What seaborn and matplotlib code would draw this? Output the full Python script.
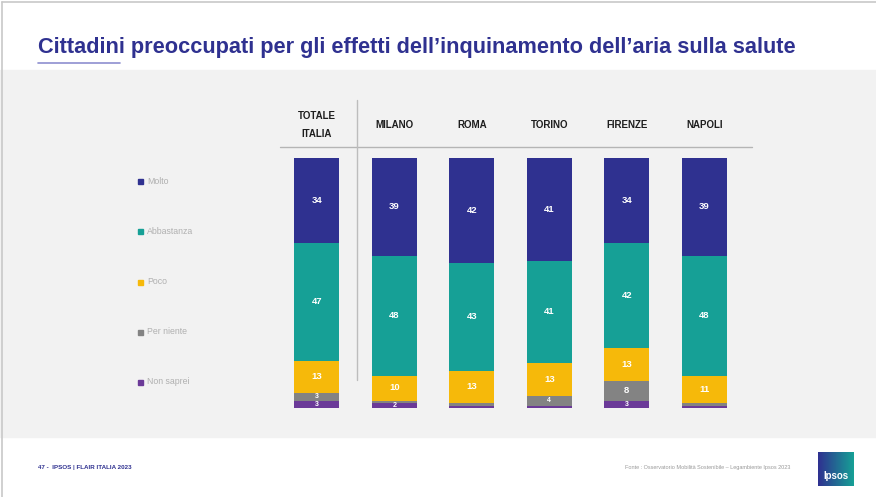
import matplotlib
matplotlib.use("Agg")
import matplotlib.pyplot as plt
from matplotlib.patches import Rectangle
from matplotlib.colors import LinearSegmentedColormap
import numpy as np
import pandas as pd
import seaborn as sns

# Survey results (% of respondents)
cities = ["TOTALE\nITALIA", "MILANO", "ROMA", "TORINO", "FIRENZE", "NAPOLI"]
responses = ["Molto", "Abbastanza", "Poco", "Per niente", "Non saprei"]
molto = [34, 39, 42, 41, 34, 39]
abbastanza = [47, 48, 43, 41, 42, 48]
poco = [13, 10, 13, 13, 13, 11]
per_niente = [3, 1, 1, 4, 8, 1]
non_saprei = [3, 2, 1, 1, 3, 1]

title = "Cittadini preoccupati per gli effetti dell\u2019inquinamento dell\u2019aria sulla salute"
footer_left = "47 -  IPSOS | FLAIR ITALIA 2023"
footer_right = "Fonte : Osservatorio Mobilità Sostenibile – Legambiente Ipsos 2023"

colors = {
    "Molto": "#2f3190",
    "Abbastanza": "#16a096",
    "Poco": "#f6b90a",
    "Per niente": "#838383",
    "Non saprei": "#6b3a98",
}

series = {"Molto": molto, "Abbastanza": abbastanza, "Poco": poco,
          "Per niente": per_niente, "Non saprei": non_saprei}
rows = []
for resp, vals in series.items():
    for c, v in zip(cities, vals):
        rows.append({"city": c, "response": resp, "value": v})
df = pd.DataFrame(rows)

sns.set_theme(style="white")
plt.rcParams["font.family"] = ["Liberation Sans", "DejaVu Sans"]

W, H = 876, 497
fig = plt.figure(figsize=(W / 100, H / 100), dpi=100)
fig.patch.set_facecolor("white")


def fy(px):
    return 1 - px / H


# grey content band
fig.add_artist(Rectangle((0, fy(437)), 1, (437 - 70) / H,
                         transform=fig.transFigure, color="#f2f2f2", zorder=0))
# slide border
fig.add_artist(plt.Line2D([2 / W, 2 / W], [0, fy(2)], transform=fig.transFigure,
                          color="#c8c8c8", lw=1.2))
fig.add_artist(plt.Line2D([2 / W, 1], [fy(2), fy(2)], transform=fig.transFigure,
                          color="#c8c8c8", lw=1.2))

# chart area: bars from y=158px to 408px, columns spaced 77.5px from x=278px
ax_left, ax_w = 278 / W, 465 / W
ax = fig.add_axes([ax_left, fy(408), ax_w, 250 / H])
ax.set_facecolor("none")

totals = np.sum([series[r] for r in responses], axis=0)
bottom = np.zeros(len(cities))
for resp in responses:
    sub = df[df["response"] == resp]
    vals = sub["value"].to_numpy(dtype=float)
    sns.barplot(data=sub, x="city", y="value", order=cities, color=colors[resp],
                width=0.58, bottom=bottom, ax=ax, saturation=1, errorbar=None,
                linewidth=0)
    for i, (b, v) in enumerate(zip(bottom, vals)):
        if v < 2:
            continue
        fs = 6.8 if v >= 5 else 5
        ax.text(i, b + v / 2, f"{int(v)}", ha="center", va="center",
                color="white", fontsize=fs, fontweight="bold")
    bottom += vals

ax.set_xlim(-0.5, len(cities) - 0.5)
ax.set_ylim(0, totals.max())
ax.invert_yaxis()
ax.set_xlabel("")
ax.set_ylabel("")
ax.set_xticks([])
ax.set_yticks([])
for s in ax.spines.values():
    s.set_visible(False)

# column headers
for i, c in enumerate(cities):
    x_fig = ax_left + (i + 0.5) / len(cities) * ax_w
    fig.text(x_fig, fy(125), c, ha="center", va="center", fontsize=7,
             fontweight="bold", color="#1e1e1e", linespacing=1.9)

fig.add_artist(plt.Line2D([280 / W, 752 / W], [fy(147), fy(147)],
                          transform=fig.transFigure, color="#b5b5b5", lw=1))
fig.add_artist(plt.Line2D([357 / W, 357 / W], [fy(100), fy(380)],
                          transform=fig.transFigure, color="#bdbdbd", lw=1))

# legend on the left
for k, resp in enumerate(responses):
    y = fy(182 + 50 * k)
    fig.add_artist(Rectangle((138 / W, y - 2.5 / H), 5 / W, 5 / H,
                             transform=fig.transFigure, color=colors[resp]))
    fig.text(147 / W, y, resp, ha="left", va="center", fontsize=6.3, color="#b0b0b0")

# title
fig.text(38 / W, fy(47), title, ha="left", va="center", fontsize=15.7,
         fontweight="bold", color="#2f3190")
fig.add_artist(plt.Line2D([38 / W, 120 / W], [fy(63), fy(63)],
                          transform=fig.transFigure, color="#8d8fcf", lw=1.2))

# footer
fig.text(38 / W, fy(468), footer_left, ha="left", va="center", fontsize=4.5,
         fontweight="bold", color="#2f3190")
fig.text(790 / W, fy(468), footer_right, ha="right", va="center", fontsize=4,
         color="#9a9a9a")

# logo
logo_ax = fig.add_axes([818 / W, fy(486), 36 / W, 34 / H])
grad = np.linspace(0, 1, 50)[None, :]
cmap = LinearSegmentedColormap.from_list("logo", ["#2f3190", "#16a096"])
logo_ax.imshow(grad, aspect="auto", cmap=cmap, extent=[0, 1, 0, 1])
logo_ax.text(0.5, 0.28, "Ipsos", ha="center", va="center", color="white",
             fontsize=7, fontweight="bold")
logo_ax.axis("off")

fig.savefig("out.png", dpi=100, facecolor=fig.get_facecolor())
